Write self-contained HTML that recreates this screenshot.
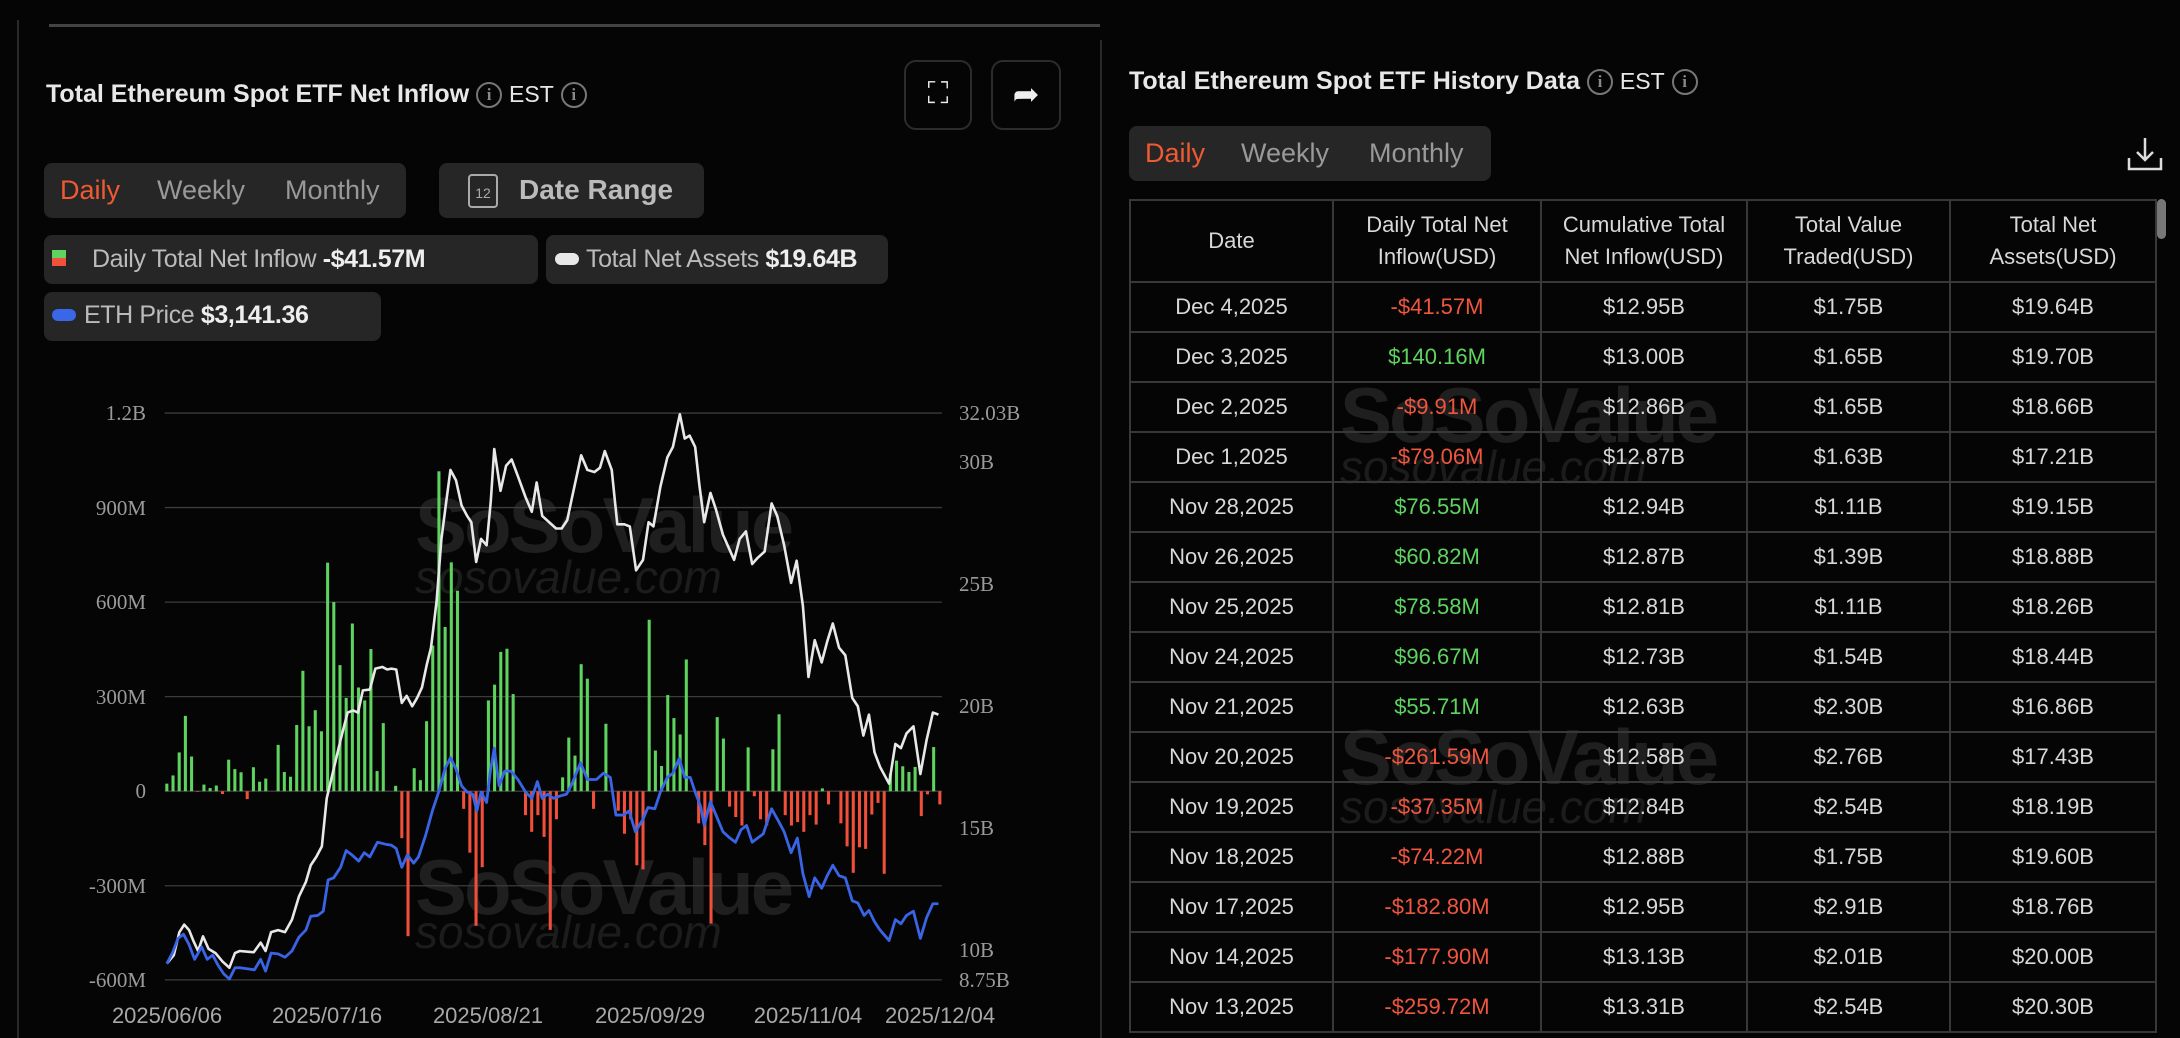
<!DOCTYPE html>
<html><head><meta charset="utf-8">
<style>
*{margin:0;padding:0;box-sizing:border-box}
html{overflow:hidden;height:1038px}
body{width:2180px;height:1038px;background:#050505;overflow:hidden;position:relative;font-family:"Liberation Sans",sans-serif;color:#ddd}
.a{position:absolute;white-space:nowrap}
.box{position:absolute;background:#262626;border-radius:8px}
.ic{display:inline-block;width:26px;height:26px;border:2px solid #777;border-radius:50%;color:#888;font-size:17px;text-align:center;line-height:22px;font-family:"Liberation Serif",serif;vertical-align:middle}
.yl{position:absolute;font-family:"Liberation Serif",serif;font-size:21px;color:#9a9a9a}
.xl{position:absolute;font-size:22px;color:#a8a8a8;transform:translateX(-50%)}
table{position:absolute;left:1129px;top:199px;border-collapse:collapse;table-layout:fixed;width:1026px}
td,th{border:2px solid #383838;text-align:center;font-size:22px;color:#d8d8d8;font-weight:normal}
th{height:82px;line-height:32px}
td{height:50px}
.r{color:#f0563f}.g{color:#5fd35f}
.wm{position:absolute;color:#1f1f1f;font-weight:bold;font-size:78px;letter-spacing:-3px}
.wm2{position:absolute;color:#1c1c1c;font-size:46px;font-style:italic}
.lg{font-size:25px;letter-spacing:-0.4px}
</style></head><body>
<div class="a" style="left:17px;top:20px;width:2px;height:1018px;background:#2a2a2a"></div>
<div class="a" style="left:49px;top:24px;width:1051px;height:3px;background:#444"></div>
<div class="a" style="left:1100px;top:40px;width:2px;height:998px;background:#2a2a2a"></div>

<div class="wm" style="left:415px;top:480px">SoSoValue</div>
<div class="wm2" style="left:415px;top:550px">sosovalue.com</div>
<div class="wm" style="left:415px;top:842px">SoSoValue</div>
<div class="wm2" style="left:415px;top:905px">sosovalue.com</div>

<div class="a" style="left:46px;top:80px;font-size:25px;font-weight:bold;color:#e8e8e8">Total Ethereum Spot ETF Net Inflow <span class="ic">i</span> <span style="font-weight:normal;font-size:23px">EST</span> <span class="ic">i</span></div>
<div class="a" style="left:904px;top:60px;width:68px;height:70px;border:2px solid #2c2c2c;border-radius:12px;color:#eee;font-size:30px;text-align:center;line-height:64px">⛶</div>
<div class="a" style="left:991px;top:60px;width:70px;height:70px;border:2px solid #2c2c2c;border-radius:12px;color:#eee;font-size:32px;text-align:center;line-height:64px">➦</div>

<div class="box" style="left:44px;top:163px;width:362px;height:55px"></div>
<div class="a" style="left:60px;top:175px;font-size:27px;color:#f05a32">Daily</div>
<div class="a" style="left:157px;top:175px;font-size:27px;color:#999">Weekly</div>
<div class="a" style="left:285px;top:175px;font-size:27px;color:#999">Monthly</div>
<div class="box" style="left:439px;top:163px;width:265px;height:55px"></div>
<div class="a" style="left:468px;top:174px;width:30px;height:34px;border:2px solid #aaa;border-radius:4px;font-size:14px;color:#aaa;text-align:center;line-height:34px">12</div>
<div class="a" style="left:519px;top:174px;font-size:28px;font-weight:bold;color:#bbb">Date Range</div>

<div class="box" style="left:44px;top:235px;width:494px;height:49px"></div>
<div class="a" style="left:52px;top:250px;width:14px;height:8px;background:#5fd35f"></div>
<div class="a" style="left:52px;top:258px;width:14px;height:8px;background:#f0503c"></div>
<div class="a lg" style="left:92px;top:245px;color:#bbb">Daily Total Net Inflow <b style="color:#eee">-$41.57M</b></div>
<div class="box" style="left:546px;top:235px;width:342px;height:49px"></div>
<div class="a" style="left:555px;top:253px;width:24px;height:12px;border-radius:6px;background:#e8e8e8"></div>
<div class="a lg" style="left:586px;top:245px;color:#bbb">Total Net Assets <b style="color:#eee">$19.64B</b></div>
<div class="box" style="left:44px;top:292px;width:337px;height:49px"></div>
<div class="a" style="left:52px;top:309px;width:24px;height:12px;border-radius:6px;background:#3a66e8"></div>
<div class="a lg" style="left:84px;top:301px;color:#bbb">ETH Price <b style="color:#eee">$3,141.36</b></div>

<div class="yl" style="right:2034px;top:401px">1.2B</div>
<div class="yl" style="right:2034px;top:496px">900M</div>
<div class="yl" style="right:2034px;top:590px">600M</div>
<div class="yl" style="right:2034px;top:685px">300M</div>
<div class="yl" style="right:2034px;top:779px">0</div>
<div class="yl" style="right:2034px;top:874px">-300M</div>
<div class="yl" style="right:2034px;top:968px">-600M</div>
<div class="yl" style="left:959px;top:401px">32.03B</div>
<div class="yl" style="left:959px;top:450px">30B</div>
<div class="yl" style="left:959px;top:572px">25B</div>
<div class="yl" style="left:959px;top:694px">20B</div>
<div class="yl" style="left:959px;top:816px">15B</div>
<div class="yl" style="left:959px;top:938px">10B</div>
<div class="yl" style="left:959px;top:968px">8.75B</div>
<div class="xl" style="left:167px;top:1003px">2025/06/06</div>
<div class="xl" style="left:327px;top:1003px">2025/07/16</div>
<div class="xl" style="left:488px;top:1003px">2025/08/21</div>
<div class="xl" style="left:650px;top:1003px">2025/09/29</div>
<div class="xl" style="left:808px;top:1003px">2025/11/04</div>
<div class="xl" style="left:940px;top:1003px">2025/12/04</div>

<svg id="ch" class="a" style="left:0;top:380px" width="1090" height="658" viewBox="0 0 1568 1573" preserveAspectRatio="none"></svg>

<div class="a" style="left:1129px;top:67px;font-size:25px;font-weight:bold;color:#e8e8e8">Total Ethereum Spot ETF History Data <span class="ic">i</span> <span style="font-weight:normal;font-size:23px">EST</span> <span class="ic">i</span></div>
<div class="box" style="left:1129px;top:126px;width:362px;height:55px"></div>
<div class="a" style="left:1145px;top:138px;font-size:27px;color:#f05a32">Daily</div>
<div class="a" style="left:1241px;top:138px;font-size:27px;color:#999">Weekly</div>
<div class="a" style="left:1369px;top:138px;font-size:27px;color:#999">Monthly</div>
<svg class="a" style="left:2126px;top:136px" width="38" height="36" viewBox="0 0 38 36"><path d="M19 2v22M11 16l8 8 8-8M3 22v11h32V22" fill="none" stroke="#ddd" stroke-width="2.5"/></svg>
<div class="a" style="left:2157px;top:199px;width:9px;height:40px;border-radius:5px;background:#777"></div>

<div class="wm" style="left:1340px;top:370px">SoSoValue</div>
<div class="wm2" style="left:1340px;top:440px">sosovalue.com</div>
<div class="wm" style="left:1340px;top:712px">SoSoValue</div>
<div class="wm2" style="left:1340px;top:780px">sosovalue.com</div>

<table>
<colgroup><col style="width:203px"><col style="width:208px"><col style="width:206px"><col style="width:203px"><col style="width:206px"></colgroup>
<tr><th>Date</th><th>Daily Total Net<br>Inflow(USD)</th><th>Cumulative Total<br>Net Inflow(USD)</th><th>Total Value<br>Traded(USD)</th><th>Total Net<br>Assets(USD)</th></tr>
<tr><td>Dec 4,2025</td><td class="r">-$41.57M</td><td>$12.95B</td><td>$1.75B</td><td>$19.64B</td></tr>
<tr><td>Dec 3,2025</td><td class="g">$140.16M</td><td>$13.00B</td><td>$1.65B</td><td>$19.70B</td></tr>
<tr><td>Dec 2,2025</td><td class="r">-$9.91M</td><td>$12.86B</td><td>$1.65B</td><td>$18.66B</td></tr>
<tr><td>Dec 1,2025</td><td class="r">-$79.06M</td><td>$12.87B</td><td>$1.63B</td><td>$17.21B</td></tr>
<tr><td>Nov 28,2025</td><td class="g">$76.55M</td><td>$12.94B</td><td>$1.11B</td><td>$19.15B</td></tr>
<tr><td>Nov 26,2025</td><td class="g">$60.82M</td><td>$12.87B</td><td>$1.39B</td><td>$18.88B</td></tr>
<tr><td>Nov 25,2025</td><td class="g">$78.58M</td><td>$12.81B</td><td>$1.11B</td><td>$18.26B</td></tr>
<tr><td>Nov 24,2025</td><td class="g">$96.67M</td><td>$12.73B</td><td>$1.54B</td><td>$18.44B</td></tr>
<tr><td>Nov 21,2025</td><td class="g">$55.71M</td><td>$12.63B</td><td>$2.30B</td><td>$16.86B</td></tr>
<tr><td>Nov 20,2025</td><td class="r">-$261.59M</td><td>$12.58B</td><td>$2.76B</td><td>$17.43B</td></tr>
<tr><td>Nov 19,2025</td><td class="r">-$37.35M</td><td>$12.84B</td><td>$2.54B</td><td>$18.19B</td></tr>
<tr><td>Nov 18,2025</td><td class="r">-$74.22M</td><td>$12.88B</td><td>$1.75B</td><td>$19.60B</td></tr>
<tr><td>Nov 17,2025</td><td class="r">-$182.80M</td><td>$12.95B</td><td>$2.91B</td><td>$18.76B</td></tr>
<tr><td>Nov 14,2025</td><td class="r">-$177.90M</td><td>$13.13B</td><td>$2.01B</td><td>$20.00B</td></tr>
<tr><td>Nov 13,2025</td><td class="r">-$259.72M</td><td>$13.31B</td><td>$2.54B</td><td>$20.30B</td></tr>
</table>

<script>
var bars=[24,50,123,239,110,-2,21,10,18,-9,100,70,60,-25,76,30,40,0,147,61,46,210,382,206,257,190,725,600,400,296,532,329,288,451,64,216,0,17,-149,-460,73,35,222,462,1015,521,726,636,-56,-195,-427,-241,288,338,442,452,308,0,-76,-129,-76,-145,-440,-89,44,170,113,403,357,-56,0,214,0,-62,-135,-89,-235,-248,544,129,80,305,232,180,418,0,-102,-171,-420,235,167,-49,-82,-109,139,-16,-89,-109,133,244,-76,-109,-98,-129,-76,-106,9,-42,0,-102,-175,-259,-178,-183,-74,-37,-262,56,97,79,61,77,-79,-10,140,-42];
var W="240,1395 250,1375 258,1320 265,1302 272,1315 278,1340 285,1365 292,1330 300,1360 310,1370 320,1390 330,1405 338,1370 345,1365 358,1367 365,1368 375,1345 382,1365 390,1320 400,1315 410,1320 420,1290 430,1235 440,1200 447,1160 455,1140 463,1115 470,1000 480,930 490,860 500,795 508,790 515,795 522,742 532,740 540,690 550,686 557,692 563,690 570,692 578,772 585,755 593,780 600,760 607,735 614,680 620,640 628,530 635,380 642,290 648,215 656,240 664,300 672,325 678,340 685,435 692,380 700,395 706,290 711,165 720,265 728,205 736,190 745,230 756,280 765,315 772,245 780,325 790,340 800,355 808,355 816,335 823,280 836,180 845,215 855,220 863,210 870,170 880,215 888,345 898,345 906,350 915,455 925,430 933,340 940,350 950,255 960,185 968,160 978,82 985,140 992,133 1000,160 1006,250 1013,340 1022,270 1030,310 1040,370 1048,400 1056,430 1064,380 1073,362 1082,440 1090,425 1100,410 1110,295 1118,325 1128,395 1138,485 1146,432 1155,540 1163,710 1172,622 1182,675 1190,625 1198,582 1207,640 1216,658 1226,760 1234,780 1242,850 1250,800 1258,890 1266,925 1279,965 1288,870 1296,880 1304,845 1314,828 1324,942 1333,860 1342,795 1350,800";
var B="240,1395 248,1370 256,1335 264,1325 272,1350 280,1385 290,1355 298,1385 306,1375 314,1400 322,1420 330,1432 338,1405 345,1405 358,1408 366,1410 375,1385 382,1413 390,1370 400,1372 410,1380 420,1365 430,1332 440,1315 447,1282 457,1280 465,1270 472,1195 480,1190 490,1165 498,1125 506,1135 516,1150 524,1130 532,1140 543,1105 555,1110 563,1112 570,1120 578,1165 586,1135 595,1155 602,1140 612,1090 622,1030 632,980 640,930 648,903 656,930 664,970 672,985 680,990 686,1030 692,985 700,1010 705,940 711,880 718,970 726,935 735,935 745,955 756,985 765,1000 773,960 780,1000 788,990 796,1000 805,995 815,990 823,965 835,915 845,955 858,955 868,940 878,950 886,1040 897,1040 905,1030 914,1080 925,1050 932,1022 942,1025 950,985 960,950 968,940 977,905 985,950 993,950 1000,985 1008,1020 1013,1065 1022,1008 1030,1040 1040,1080 1050,1095 1058,1105 1066,1075 1074,1065 1082,1105 1090,1095 1098,1085 1110,1025 1120,1055 1128,1080 1138,1130 1147,1095 1155,1180 1164,1235 1172,1190 1182,1215 1190,1185 1198,1160 1207,1185 1216,1190 1226,1245 1234,1250 1243,1280 1250,1268 1258,1295 1266,1315 1279,1340 1288,1290 1296,1300 1304,1280 1314,1270 1324,1335 1333,1285 1342,1252 1350,1252";
var s='';
[79,305,531,757,983,1209,1434].forEach(function(y){s+='<line x1="237" x2="1355" y1="'+y+'" y2="'+y+'" stroke="#3c3c3c" stroke-width="1.3" vector-effect="non-scaling-stroke"/>';});
var n=bars.length;
for(var i=0;i<n;i++){var x=240+i*(1352-240)/(n-1);var v=bars[i];var h=Math.abs(v)*0.7535;var y=v>=0?983-h:983;
s+='<rect x="'+(x-2.2)+'" y="'+y+'" width="4.4" height="'+h+'" fill="'+(v>=0?'#5fd35f':'#ef4f3b')+'"/>';}
s+='<polyline points="'+W+'" fill="none" stroke="#e8e8e8" stroke-width="2.6" vector-effect="non-scaling-stroke" stroke-linejoin="round"/>';
s+='<polyline points="'+B+'" fill="none" stroke="#3a64e6" stroke-width="2.8" vector-effect="non-scaling-stroke" stroke-linejoin="round"/>';
document.getElementById('ch').innerHTML=s;
</script>
</body></html>
